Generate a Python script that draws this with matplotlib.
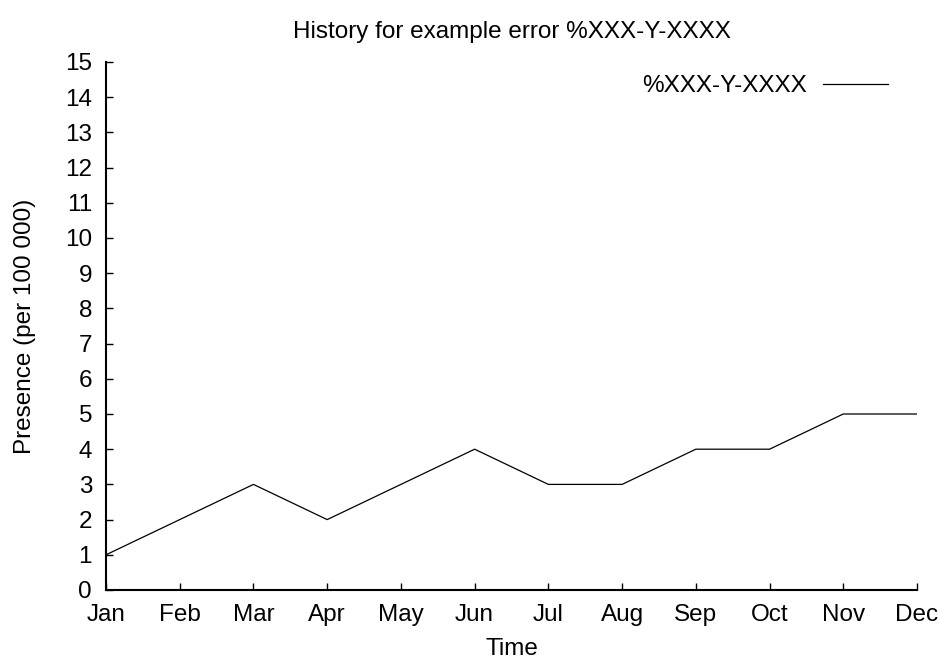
import matplotlib
matplotlib.use("Agg")
import matplotlib.pyplot as plt

plt.rcParams['font.family'] = ['Liberation Sans', 'DejaVu Sans']

months = ["Jan", "Feb", "Mar", "Apr", "May", "Jun", "Jul", "Aug", "Sep", "Oct", "Nov", "Dec"]
presence = [1, 2, 3, 2, 3, 4, 3, 3, 4, 4, 5, 5]
series_name = "%XXX-Y-XXXX"
y_ticks = list(range(0, 16))

FS = 17.5

fig = plt.figure(figsize=(9.39, 6.59), dpi=100)
ax = fig.add_axes([106/939, 1 - 590/659, (917-106)/939, (590-62)/659])

x = list(range(len(months)))
ax.plot(x, presence, color='black', linewidth=0.9, label=series_name)

ax.set_xlim(0, len(months) - 1)
ax.set_ylim(0, 15)
ax.set_xticks(x)
ax.set_xticklabels(months)
ax.set_yticks(y_ticks)

for s in ['top', 'right']:
    ax.spines[s].set_visible(False)
for s in ['left', 'bottom']:
    ax.spines[s].set_linewidth(1.5)

ax.tick_params(direction='in', length=5, width=1, labelsize=FS, pad=10)
ax.tick_params(axis='x', pad=10)

ax.set_title("History for example error %XXX-Y-XXXX", fontsize=FS, pad=17)
ax.set_xlabel("Time", fontsize=FS, labelpad=8.5)
ax.set_ylabel("Presence (per 100 000)", fontsize=FS, labelpad=21)

leg = ax.legend(loc='upper right', bbox_to_anchor=(0.991, 1.016), frameon=False,
                markerfirst=False, fontsize=FS, handlelength=2.67, handletextpad=0.66,
                borderpad=0.4)

fig.savefig("out.png", dpi=100)
